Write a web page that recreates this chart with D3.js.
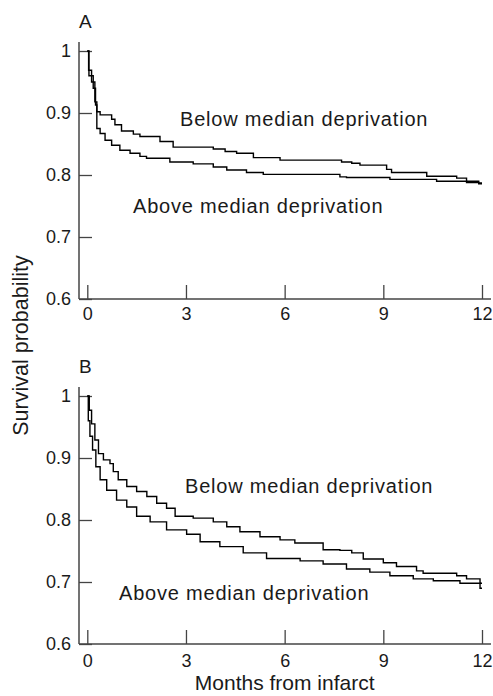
<!DOCTYPE html>
<html>
<head>
<meta charset="utf-8">
<script src="https://cdn.jsdelivr.net/npm/d3@7"></script>
<style>
  html, body { margin: 0; padding: 0; background: #fff; }
  svg { display: block; font-family: "Liberation Sans", Arial, Helvetica, sans-serif; }
</style>
</head>
<body>
<svg id="chart" width="493" height="696"></svg>
<script>
// ---------- data ----------
const monthTicks = [0, 3, 6, 9, 12];
const survTicks = [0.6, 0.7, 0.8, 0.9, 1];
const panelNames = ["A", "B"];
const seriesNames = ["Below median deprivation", "Above median deprivation"];

// Panel A – below median deprivation
const aBelowT = [0, 0.04, 0.13, 0.23, 0.29, 0.39, 0.74, 0.84, 1.04, 1.40, 1.60, 2.21, 2.61, 3.83, 4.19, 4.54, 5.05, 5.86, 7.73, 8.04, 8.29, 9.10, 9.25, 10.32, 11.23, 11.53, 11.9, 12];
const aBelowS = [1, 0.969, 0.950, 0.918, 0.902, 0.897, 0.890, 0.881, 0.871, 0.866, 0.862, 0.854, 0.845, 0.842, 0.838, 0.835, 0.828, 0.824, 0.821, 0.819, 0.816, 0.809, 0.804, 0.798, 0.795, 0.790, 0.787, 0.787];
// Panel A – above median deprivation
const aAboveT = [0, 0.05, 0.18, 0.25, 0.29, 0.39, 0.54, 0.74, 0.99, 1.30, 1.60, 1.80, 2.51, 3.22, 3.83, 4.24, 4.84, 5.35, 7.68, 7.88, 9.20, 10.62, 11.53, 11.9, 12];
const aAboveS = [1, 0.960, 0.940, 0.913, 0.875, 0.867, 0.856, 0.848, 0.840, 0.835, 0.830, 0.827, 0.821, 0.818, 0.813, 0.808, 0.804, 0.801, 0.797, 0.796, 0.793, 0.790, 0.788, 0.786, 0.786];
// Panel B – below median deprivation
const bBelowT = [0, 0.06, 0.13, 0.23, 0.34, 0.49, 0.69, 0.79, 0.94, 1.20, 1.50, 1.81, 2.11, 2.41, 2.67, 3.22, 3.83, 4.24, 4.64, 5.25, 5.86, 6.31, 7.17, 7.68, 8.04, 8.39, 9.00, 9.40, 10.01, 10.21, 11.23, 11.53, 11.94, 12];
const bBelowS = [1, 0.977, 0.955, 0.929, 0.907, 0.897, 0.891, 0.878, 0.865, 0.854, 0.846, 0.838, 0.827, 0.819, 0.806, 0.803, 0.797, 0.789, 0.781, 0.773, 0.768, 0.763, 0.752, 0.751, 0.747, 0.737, 0.731, 0.725, 0.718, 0.714, 0.710, 0.705, 0.698, 0.698];
// Panel B – above median deprivation
const bAboveT = [0, 0.03, 0.08, 0.16, 0.26, 0.39, 0.59, 0.89, 1.20, 1.50, 1.91, 2.41, 3.02, 3.43, 4.03, 4.74, 5.45, 6.47, 7.17, 7.88, 8.59, 9.20, 9.91, 10.52, 11.33, 11.94, 12];
const bAboveS = [1, 0.960, 0.935, 0.913, 0.886, 0.865, 0.848, 0.832, 0.821, 0.806, 0.797, 0.784, 0.777, 0.765, 0.757, 0.747, 0.738, 0.734, 0.729, 0.721, 0.716, 0.710, 0.705, 0.702, 0.698, 0.690, 0.690];

const panels = [
  { name: panelNames[0], below: [aBelowT, aBelowS], above: [aAboveT, aAboveS], top: 51, bottom: 299,
    belowLbl: [180, 126], aboveLbl: [133, 213] },
  { name: panelNames[1], below: [bBelowT, bBelowS], above: [bAboveT, bAboveS], top: 396, bottom: 644,
    belowLbl: [185, 493], aboveLbl: [119, 600] }
];

// ---------- drawing ----------
const svg = d3.select("#chart");
const x = d3.scaleLinear().domain([0, 12]).range([87.3, 482]);
const axisLeftX = 79, axisRightX = 491;
const textColor = "#1a1a1a", axisColor = "#444";

panels.forEach((p, i) => {
  const y = d3.scaleLinear().domain([0.6, 1]).range([p.bottom, p.top]);
  const g = svg.append("g");

  // axis lines
  g.append("line").attr("x1", axisLeftX).attr("x2", axisLeftX)
    .attr("y1", y(1) - 9).attr("y2", y(0.6))
    .attr("stroke", axisColor).attr("stroke-width", 1.5);
  g.append("line").attr("x1", axisLeftX).attr("x2", axisRightX)
    .attr("y1", y(0.6)).attr("y2", y(0.6))
    .attr("stroke", axisColor).attr("stroke-width", 1.5);

  // y axis
  const yAxis = d3.axisLeft(y).tickValues(survTicks).tickSize(-13).tickPadding(8)
    .tickFormat(d => d === 1 ? "1" : d3.format(".1f")(d));
  const ya = g.append("g").attr("transform", `translate(${axisLeftX},0)`).call(yAxis);
  ya.select(".domain").remove();
  ya.selectAll(".tick line").attr("stroke", axisColor).attr("stroke-width", 1.3);
  ya.selectAll(".tick text").attr("fill", textColor).style("font-size", "18px")
    .style("font-family", "'Liberation Sans', Arial, sans-serif");

  // x axis
  const xAxis = d3.axisBottom(x).tickValues(monthTicks).tickSize(-14).tickPadding(i === 0 ? 8 : 10)
    .tickFormat(d3.format("d"));
  const xa = g.append("g").attr("transform", `translate(0,${y(0.6)})`).call(xAxis);
  xa.select(".domain").remove();
  xa.selectAll(".tick line").attr("stroke", axisColor).attr("stroke-width", 1.3);
  xa.selectAll(".tick text").attr("fill", textColor).style("font-size", "18px")
    .style("font-family", "'Liberation Sans', Arial, sans-serif");

  // curves
  const line = d3.line().x(d => x(d[0])).y(d => y(d[1])).curve(d3.curveStepAfter);
  [p.below, p.above].forEach(s => {
    const pts = s[0].map((t, k) => [t, s[1][k]]);
    g.append("path").datum(pts).attr("d", line)
      .attr("fill", "none").attr("stroke", "#000").attr("stroke-width", 1.4);
  });

  // panel letter
  g.append("text").attr("x", 79).attr("y", p.top - 23)
    .attr("fill", textColor).style("font-size", "19px").text(p.name);

  // annotations
  g.append("text").attr("x", p.belowLbl[0]).attr("y", p.belowLbl[1])
    .attr("fill", textColor).style("font-size", "20px").style("letter-spacing", "0.8px")
    .text(seriesNames[0]);
  g.append("text").attr("x", p.aboveLbl[0]).attr("y", p.aboveLbl[1])
    .attr("fill", textColor).style("font-size", "20px").style("letter-spacing", "0.8px")
    .text(seriesNames[1]);
});

// axis titles
svg.append("text").attr("transform", "translate(28,345.5) rotate(-90)")
  .attr("text-anchor", "middle").attr("fill", textColor).style("font-size", "21.5px")
  .text("Survival probability");
svg.append("text").attr("x", x(6)).attr("y", 690)
  .attr("text-anchor", "middle").attr("fill", textColor).style("font-size", "21px")
  .text("Months from infarct");
</script>
</body>
</html>
